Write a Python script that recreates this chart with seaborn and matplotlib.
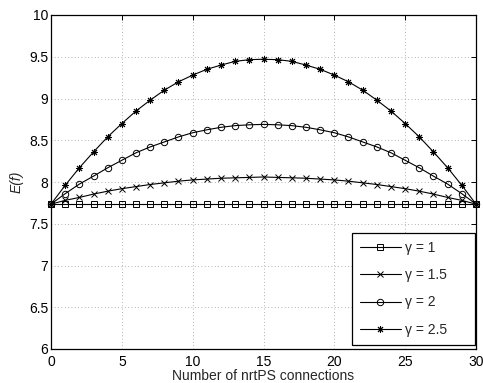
import numpy as np
import pandas as pd
import matplotlib
matplotlib.use("Agg")
import matplotlib.pyplot as plt
import seaborn as sns

# Number of nrtPS connections
connections = list(range(31))

# Expected value E(f) for each gamma
e_gamma_1 = [7.735] * 31
e_gamma_15 = [7.735, 7.78, 7.815, 7.855, 7.89, 7.92, 7.945, 7.97, 7.99, 8.01,
              8.025, 8.035, 8.045, 8.05, 8.055, 8.06, 8.055, 8.05, 8.045, 8.035,
              8.025, 8.01, 7.99, 7.97, 7.945, 7.92, 7.89, 7.855, 7.815, 7.78, 7.735]
e_gamma_2 = [7.735, 7.86, 7.975, 8.07, 8.17, 8.26, 8.35, 8.42, 8.48, 8.54,
             8.59, 8.625, 8.655, 8.675, 8.685, 8.69, 8.685, 8.675, 8.655, 8.625,
             8.59, 8.54, 8.48, 8.42, 8.35, 8.26, 8.17, 8.07, 7.975, 7.86, 7.735]
e_gamma_25 = [7.735, 7.96, 8.17, 8.36, 8.54, 8.70, 8.85, 8.98, 9.10, 9.20,
              9.28, 9.35, 9.40, 9.445, 9.465, 9.47, 9.465, 9.445, 9.40, 9.35,
              9.28, 9.20, 9.10, 8.98, 8.85, 8.70, 8.54, 8.36, 8.17, 7.96, 7.735]

series_labels = ["γ = 1", "γ = 1.5", "γ = 2", "γ = 2.5"]
series_values = [e_gamma_1, e_gamma_15, e_gamma_2, e_gamma_25]

x_ticks = [0, 5, 10, 15, 20, 25, 30]
y_ticks = [6, 6.5, 7, 7.5, 8, 8.5, 9, 9.5, 10]
y_tick_labels = ["6", "6.5", "7", "7.5", "8", "8.5", "9", "9.5", "10"]

sns.set_style("white")
plt.rcParams["font.family"] = ["Liberation Sans", "DejaVu Sans"]

fig = plt.figure(figsize=(4.83, 3.83), dpi=100)
ax = fig.add_axes([51 / 483, 1 - 349 / 383, 425 / 483, 334 / 383])

asterisk = (8, 2, 0)
marker_styles = [
    dict(marker="s", markersize=4.2, markerfacecolor="none"),
    dict(marker="x", markersize=3.8),
    dict(marker="o", markersize=4.6, markerfacecolor="none"),
    dict(marker=asterisk, markersize=5.0),
]

for label, values, mstyle in zip(series_labels, series_values, marker_styles):
    df = pd.DataFrame({"n": connections, "E": values})
    sns.lineplot(data=df, x="n", y="E", ax=ax, color="black", linewidth=0.8,
                 markeredgecolor="black", markeredgewidth=0.7, label=label,
                 clip_on=False, zorder=3, **mstyle)

ax.set_xlim(0, 30)
ax.set_ylim(6, 10)
ax.set_xticks(x_ticks)
ax.set_xticklabels([str(t) for t in x_ticks])
ax.set_yticks(y_ticks)
ax.set_yticklabels(y_tick_labels)

ax.grid(True, color="#9a9a9a", linestyle=(0, (1, 3)), linewidth=0.6)
ax.tick_params(direction="in", length=3.5, width=0.7, top=True, right=True,
               labelsize=10, colors="black")
ax.tick_params(axis="x", pad=4)
ax.tick_params(axis="y", pad=2)
for sp in ax.spines.values():
    sp.set_color("black")
    sp.set_linewidth(0.9)

ax.set_xlabel("Number of nrtPS connections", fontsize=10, labelpad=0)
ax.set_ylabel("E(f)", fontsize=10, fontstyle="italic", labelpad=4)

leg = ax.legend(loc="lower left", bbox_to_anchor=(0.708, 0.012, 0.290, 0.35),
                mode="expand", frameon=True, fancybox=False, framealpha=1,
                edgecolor="black", fontsize=10, handlelength=2.9,
                handletextpad=0.3, borderpad=0.6, labelspacing=0.95,
                borderaxespad=0, numpoints=1)
leg.get_frame().set_linewidth(0.9)
leg.set_zorder(5)

fig.savefig("out.png", dpi=100)
